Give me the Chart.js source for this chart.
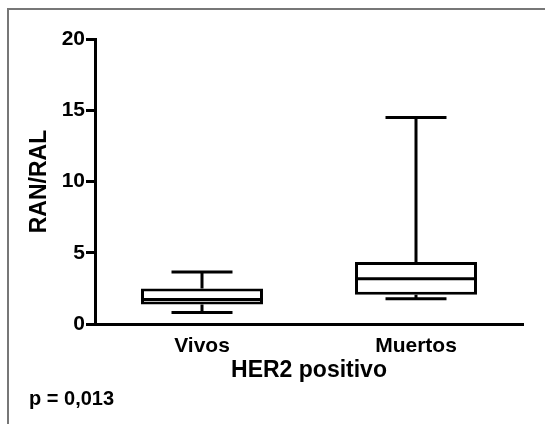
<!DOCTYPE html>
<html>
<head>
<meta charset="utf-8">
<script src="https://cdn.jsdelivr.net/npm/chart.js@4/dist/chart.umd.min.js"></script>
<style>
  body { margin: 0; background: #fff; }
  #wrap { position: relative; width: 545px; height: 424px; overflow: hidden; }
  #frame { position: absolute; left: 7px; top: 8px; width: 600px; height: 500px; border-left: 2px solid #777; border-top: 2px solid #777; }
  #pval { position: absolute; left: 29px; top: 387px; font: bold 20px "Liberation Sans", Arial, sans-serif; color: #000; }
  canvas { position: absolute; left: 0; top: 0; }
</style>
</head>
<body>
<div id="wrap">
  <div id="frame"></div>
  <canvas id="box" width="545" height="424"></canvas>
  <div id="pval">p = 0,013</div>
</div>
<script>
const categories = ['Vivos', 'Muertos'];
const mins = [0.8, 1.77];
const q1s = [1.37, 2.06];
const medians = [1.72, 3.18];
const q3s = [2.5, 4.35];
const maxs = [3.65, 14.5];
const yTicks = [0, 5, 10, 15, 20];

const FONT = '"Liberation Sans", Arial, sans-serif';

// whiskers + median on top of the floating bars
const whiskerPlugin = {
    id: 'whiskers',
    afterDatasetsDraw(chart) {
        const ctx = chart.ctx;
        const y = chart.scales.y;
        const meta = chart.getDatasetMeta(0);
        ctx.save();
        ctx.strokeStyle = '#000';
        ctx.lineWidth = 3;
        meta.data.forEach((bar, i) => {
            const cx = bar.x;
            const half = bar.width / 2;
            const cap = half / 2;
            const pMin = y.getPixelForValue(mins[i]);
            const pQ1 = y.getPixelForValue(q1s[i]);
            const pMed = y.getPixelForValue(medians[i]);
            const pQ3 = y.getPixelForValue(q3s[i]);
            const pMax = y.getPixelForValue(maxs[i]);
            ctx.beginPath();
            ctx.moveTo(cx, pQ3); ctx.lineTo(cx, pMax);
            ctx.moveTo(cx - cap, pMax); ctx.lineTo(cx + cap, pMax);
            ctx.moveTo(cx, pQ1); ctx.lineTo(cx, pMin);
            ctx.moveTo(cx - cap, pMin); ctx.lineTo(cx + cap, pMin);
            ctx.moveTo(cx - half, pMed); ctx.lineTo(cx + half, pMed);
            ctx.stroke();
        });
        ctx.restore();
    }
};

new Chart(document.getElementById('box').getContext('2d'), {
    type: 'bar',
    data: {
        labels: categories,
        datasets: [{
            data: categories.map((c, i) => [q1s[i], q3s[i]]),
            backgroundColor: '#fff',
            borderColor: '#000',
            borderWidth: 3,
            borderSkipped: false,
            barPercentage: 0.57,
            categoryPercentage: 1
        }]
    },
    options: {
        responsive: false,
        animation: false,
        layout: { padding: { top: 39, right: 22, bottom: 0, left: 0 } },
        plugins: { legend: { display: false }, tooltip: { enabled: false } },
        scales: {
            x: {
                afterFit: s => { s.height = 100; },
                grid: { display: false, drawTicks: false },
                border: { color: '#000', width: 3 },
                ticks: { color: '#000', padding: 10, font: { family: FONT, size: 21, weight: 'bold' } },
                title: {
                    display: true, text: 'HER2 positivo', color: '#000',
                    font: { family: FONT, size: 23, weight: 'bold' },
                    padding: { top: 0, bottom: 40 }
                }
            },
            y: {
                min: 0, max: 20,
                afterFit: s => { s.width = 95; },
                afterBuildTicks: s => { s.ticks = yTicks.map(v => ({ value: v })); },
                grid: { drawOnChartArea: false, drawTicks: true, tickLength: 9, color: '#000', lineWidth: 3 },
                border: { color: '#000', width: 3 },
                ticks: { color: '#000', padding: 1, font: { family: FONT, size: 21, weight: 'bold' } },
                title: {
                    display: true, text: 'RAN/RAL', color: '#000',
                    font: { family: FONT, size: 23, weight: 'bold' },
                    padding: { top: 26, bottom: 0 }
                }
            }
        }
    },
    plugins: [whiskerPlugin]
});
</script>
</body>
</html>
